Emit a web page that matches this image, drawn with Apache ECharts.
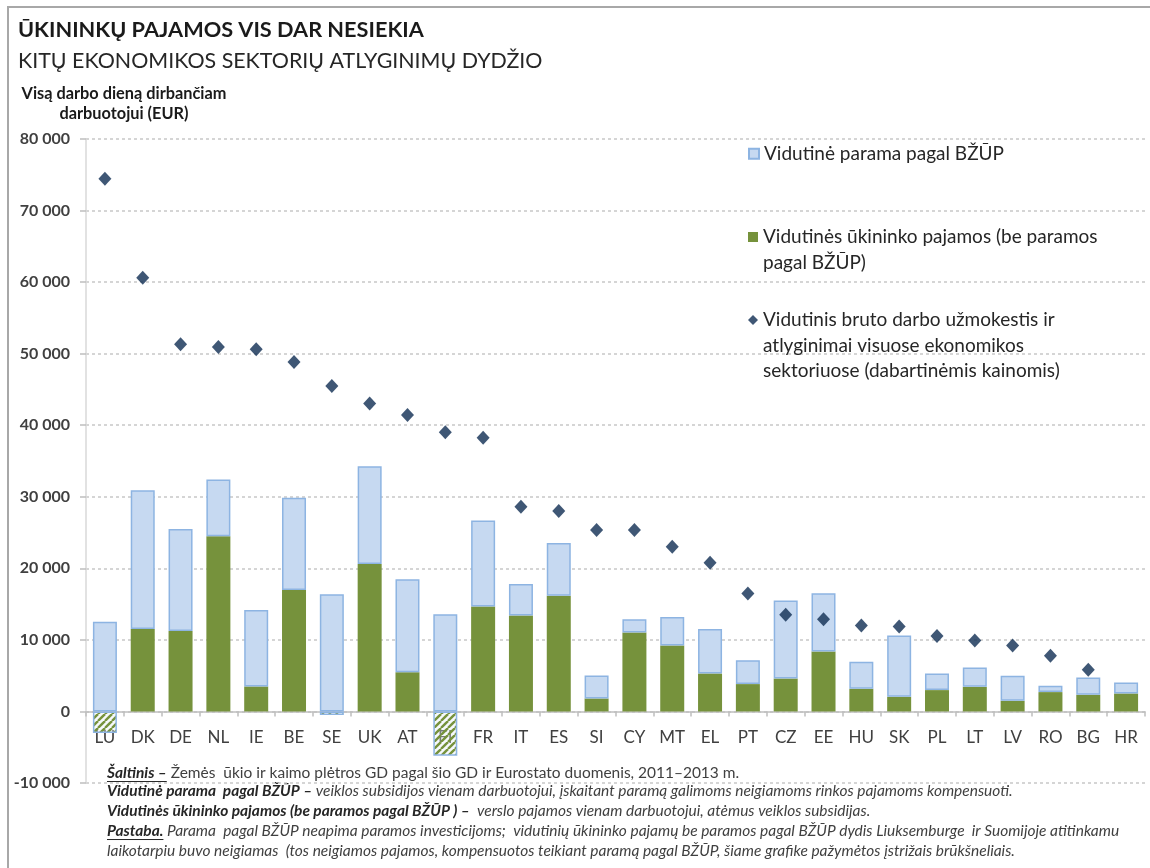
<!DOCTYPE html>
<html><head><meta charset="utf-8">
<script src="https://cdn.jsdelivr.net/npm/echarts@6/dist/echarts.min.js"></script>
<style>html,body{margin:0;padding:0;background:#fff}#c{width:1150px;height:868px}</style>
</head><body><div id="c"></div>
<script>
// ---------- DATA ----------
const categories = ['LU','DK','DE','NL','IE','BE','SE','UK','AT','FI','FR','IT','ES','SI','CY','MT','EL','PT','CZ','EE','HU','SK','PL','LT','LV','RO','BG','HR'];
// Average farmer income excluding CAP support (EUR per full-time worker)
const farmerIncome = [-3000, 11530, 11250, 24500, 3490, 16970, -500, 20600, 5490, -6200, 14650, 13400, 16180, 1810, 11020, 9210, 5300, 3820, 4600, 8370, 3170, 2050, 2980, 3440, 1490, 2700, 2330, 2510];
// Average CAP support (stacked on top of farmer income)
const capSupport = [12550, 19370, 14250, 7900, 10690, 12880, 16370, 13670, 12980, 13580, 12040, 4400, 7350, 3210, 1870, 4000, 6230, 3350, 10910, 8140, 3760, 8550, 2320, 2700, 3490, 880, 2410, 1540];
// Average gross wages and salaries in the whole economy
const avgWages = [74430, 60610, 51300, 50930, 50600, 48820, 45470, 43050, 41420, 39030, 38240, 28600, 28000, 25340, 25340, 23010, 20770, 16480, 13500, 12880, 12020, 11860, 10560, 9900, 9230, 7790, 5820, null];
const yTicks = {min: -10000, max: 80000, interval: 10000};

const nameSupport = 'Vidutinė parama pagal BŽŪP';
const nameIncome = 'Vidutinės ūkininko pajamos (be paramos pagal BŽŪP)';
const nameWages = 'Vidutinis bruto darbo užmokestis ir atlyginimai visuose ekonomikos sektoriuose (dabartinėmis kainomis)';
const legendIncomeLines = ['Vidutinės ūkininko pajamos (be paramos', 'pagal BŽŪP)'];
const legendWagesLines = ['Vidutinis bruto darbo užmokestis ir', 'atlyginimai visuose ekonomikos', 'sektoriuose (dabartinėmis kainomis)'];

const titleText = 'ŪKININKŲ PAJAMOS VIS DAR NESIEKIA';
const subtitleText = 'KITŲ EKONOMIKOS SEKTORIŲ ATLYGINIMŲ DYDŽIO';
const yAxisNameLines = ['Visą darbo dieną dirbančiam', 'darbuotojui (EUR)'];
const footnotes = [
  [['bu','Šaltinis –'],['n',' Žemės  ūkio ir kaimo plėtros GD pagal šio GD ir Eurostato duomenis, 2011–2013 m.']],
  [['b','Vidutinė parama  pagal BŽŪP –'],['i',' veiklos subsidijos vienam darbuotojui, įskaitant paramą galimoms neigiamoms rinkos pajamoms kompensuoti.']],
  [['b','Vidutinės ūkininko pajamos (be paramos pagal BŽŪP ) –'],['i','  verslo pajamos vienam darbuotojui, atėmus veiklos subsidijas.']],
  [['bu','Pastaba.'],['i',' Parama  pagal BŽŪP neapima paramos investicijoms;  vidutinių ūkininko pajamų be paramos pagal BŽŪP dydis Liuksemburge  ir Suomijoje atitinkamu']],
  [['i','laikotarpiu buvo neigiamas  (tos neigiamos pajamos, kompensuotos teikiant paramą pagal BŽŪP, šiame grafike pažymėtos įstrižais brūkšneliais.']]
];

// ---------- STYLE HELPERS ----------
const GREEN = '#76923C', BLUE = '#C6D9F1', BLUE_B = '#8DB4E2', NAVY = '#0F2D52';
const FONT = 'Lato, "Open Sans", sans-serif';
const mctx = document.createElement('canvas').getContext('2d');
function tw(txt, weight, style, size){ mctx.font = style + ' ' + weight + ' ' + size + 'px Lato'; return mctx.measureText(txt).width; }
function fit(txt, weight, style, target){ return 20 * target / tw(txt, weight, style, 20); }

// hatch pattern (transparent background so the axis label shows through)
const pat = document.createElement('canvas');
pat.width = 7; pat.height = 7;
(function(){
  const c = pat.getContext('2d');
  c.fillStyle = 'rgba(230,238,246,0.35)'; c.fillRect(0,0,7,7);
  c.strokeStyle = GREEN; c.lineWidth = 2.4;
  for (let k = -7; k <= 14; k += 7) { c.beginPath(); c.moveTo(k, 7); c.lineTo(k + 7, 0); c.stroke(); }
})();

const incomeData = farmerIncome.map(v => v < 0
  ? {value: v, itemStyle: {color: {image: pat, repeat: 'repeat'}, borderColor: BLUE_B, borderWidth: 1.5}}
  : v);

// ---------- LAYOUT ----------
const GRID = {left: 86, right: 5, top: 139, bottom: 85};
const plotH = 868 - GRID.top - GRID.bottom;
const zeroOffset = -plotH * (0 - yTicks.min) / (yTicks.max - yTicks.min);

// ---------- GRAPHIC TEXT ----------
const graphics = [];
graphics.push({type:'rect', shape:{x:8, y:7, width:1160, height:880}, style:{fill:'none', stroke:'#A8A8A8', lineWidth:2}, silent:true});
graphics.push({type:'text', x:18, y:30, style:{text:titleText, fontFamily:FONT, fontWeight:'bold', fontSize:fit(titleText,'bold','normal',406), fill:'#1a1a1a', verticalAlign:'middle'}});
graphics.push({type:'text', x:18, y:61, style:{text:subtitleText, fontFamily:FONT, fontSize:fit(subtitleText,'normal','normal',525), fill:'#262626', verticalAlign:'middle'}});

const fnSize = fit(footnotes[3].map(p=>p[1]).join(''), 'normal', 'italic', 1012);
const fnY = [773, 791, 811, 831, 851];
const richDef = {
  b: {fontFamily:FONT, fontSize:fnSize, fontWeight:'bold', fontStyle:'italic', fill:'#262626'},
  bu: {fontFamily:FONT, fontSize:fnSize, fontWeight:'bold', fontStyle:'italic', fill:'#262626'},
  i: {fontFamily:FONT, fontSize:fnSize, fontStyle:'italic', fill:'#404040'},
  n: {fontFamily:FONT, fontSize:fnSize, fill:'#404040'}
};
footnotes.forEach((line, li) => {
  const txt = line.map(p => '{' + p[0] + '|' + p[1] + '}').join('');
  graphics.push({type:'text', x:107, y:fnY[li], style:{text:txt, rich:richDef, fontFamily:FONT, fontSize:fnSize, verticalAlign:'middle'}});
  let x = 107;
  line.forEach(p => {
    const w = tw(p[1], p[0]==='n'||p[0]==='i' ? 'normal':'bold', p[0]==='n' ? 'normal':'italic', fnSize);
    if (p[0] === 'bu') graphics.push({type:'line', shape:{x1:x, y1:fnY[li]+fnSize*0.55, x2:x+w, y2:fnY[li]+fnSize*0.55}, style:{stroke:'#262626', lineWidth:1}, silent:true});
    x += w;
  });
});

const yNameSize = fit(yAxisNameLines[0], 'bold', 'normal', 205);

// legend: blank lines before the label keep the icon beside the first line
const LEG_LH = 25.5;
const legendCommon = {orient:'vertical', left:748, itemWidth:10, itemHeight:10, itemGap:0, padding:0, selectedMode:false,
  textStyle:{fontFamily:FONT, fontSize:19, color:'#262626', lineHeight:LEG_LH}};
const padLines = lines => '\n'.repeat(lines.length - 1) + lines.join('\n');

const option = {
  animation: false,
  backgroundColor: '#ffffff',
  grid: Object.assign({containLabel: false, outerBoundsMode: 'none'}, GRID),
  xAxis: {
    type: 'category', data: categories,
    offset: zeroOffset,
    axisLine: {onZero: false, lineStyle: {color: '#BFBFBF', width: 1.5}},
    axisTick: {show: true, length: 5, lineStyle: {color: '#BFBFBF', width: 1.5}},
    axisLabel: {margin: 18, fontFamily: FONT, fontSize: 17, color: '#404040', interval: 0, hideOverlap: false}
  },
  yAxis: {
    type: 'value', min: yTicks.min, max: yTicks.max, interval: yTicks.interval,
    name: yAxisNameLines.join('\n'), nameLocation: 'end', nameGap: 15,
    nameTextStyle: {fontFamily: FONT, fontWeight: 'bold', fontSize: yNameSize, color: '#1a1a1a', align: 'center', lineHeight: 20, padding: [0,0,0,76]},
    axisLine: {show: true, lineStyle: {color: '#D9D9D9', width: 1.5}},
    axisTick: {show: true, length: 6, lineStyle: {color: '#BFBFBF', width: 1.5}},
    axisLabel: {margin: 16, fontFamily: FONT, fontWeight: 'bold', fontSize: 16, color: '#404040',
      formatter: v => String(v).replace(/\B(?=(\d{3})+(?!\d))/g, ' ')},
    splitLine: {show: true, lineStyle: {color: '#C8C8C8', width: 1.5, type: [3, 3]}}
  },
  legend: [
    Object.assign({}, legendCommon, {top: 141, data: [{name: nameSupport, icon: 'rect'}]}),
    Object.assign({}, legendCommon, {top: 237 - 1.5 * LEG_LH, data: [{name: nameIncome, icon: 'rect'}], formatter: () => padLines(legendIncomeLines)}),
    Object.assign({}, legendCommon, {top: 320 - 2.5 * LEG_LH, data: [{name: nameWages, icon: 'diamond'}], formatter: () => padLines(legendWagesLines)})
  ],
  series: [
    {name: nameIncome, type: 'bar', stack: 'total', stackStrategy: 'samesign', barWidth: 24, data: incomeData,
      itemStyle: {color: GREEN}},
    {name: nameSupport, type: 'bar', stack: 'total', stackStrategy: 'samesign', barWidth: 24, data: capSupport,
      itemStyle: {color: BLUE, borderColor: BLUE_B, borderWidth: 1.5}},
    {name: nameWages, type: 'scatter', symbol: 'diamond', symbolSize: [13, 14], data: avgWages, z: 5,
      itemStyle: {color: NAVY}}
  ],
  graphic: graphics
};
echarts.init(document.getElementById('c')).setOption(option);
</script></body></html>
